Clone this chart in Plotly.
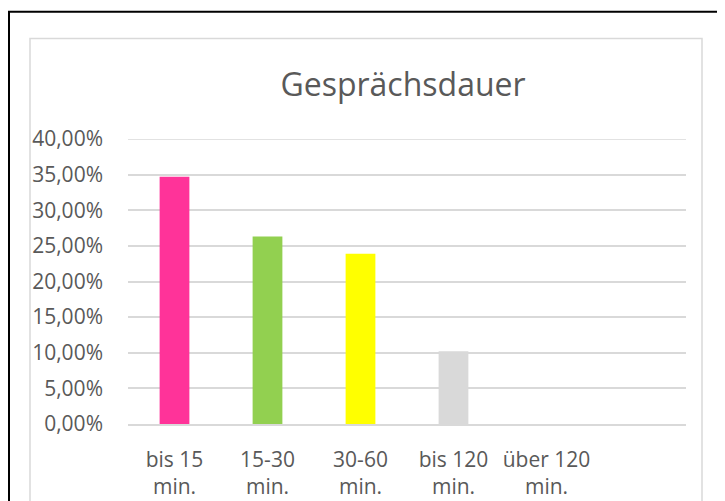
import plotly.graph_objects as go

# Data
categories = ["bis 15<br>min.", "15-30<br>min.", "30-60<br>min.", "bis 120<br>min.", "über 120<br>min.", " "]
values = [0.347, 0.263, 0.239, 0.102, 0.0, None]
bar_colors = ["#FF3399", "#92D050", "#FFFF00", "#D9D9D9", "#A5A5A5", "#FFFFFF"]
y_ticks = [0, 0.05, 0.10, 0.15, 0.20, 0.25, 0.30, 0.35, 0.40]

# page has an 8px body margin, so figure coords = page coords - 8
W, H = 717, 493
L, R = 120, 678
T, B = 131, 416.3
YMAX = 0.4

def px_x(p):
    return (p - L) / (R - L)

def px_y(p):
    return (B - p) / (B - T)

fig = go.Figure(go.Bar(
    x=categories,
    y=values,
    marker=dict(color=bar_colors, line=dict(width=0)),
    width=0.32,
    hoverinfo="skip",
))

font = "Open Sans, sans-serif"
grey_txt = "#595959"
grid = "#D9D9D9"

fig.update_layout(
    width=W, height=H,
    margin=dict(l=L, r=W - R, t=T, b=H - B, pad=0, autoexpand=False),
    paper_bgcolor="white",
    plot_bgcolor="white",
    separators=",.",
    showlegend=False,
    font=dict(family=font, color=grey_txt, size=21),
    title=dict(
        text="Gesprächsdauer",
        x=395 / W, xanchor="center", xref="container",
        y=1 - 77 / H, yanchor="middle", yref="container",
        font=dict(family=font, size=32, color=grey_txt),
    ),
    xaxis=dict(
        type="category",
        categoryorder="array", categoryarray=categories,
        range=[-0.5, 5.5],
        showgrid=False,
        showline=True, linecolor=grid, linewidth=1.5,
        ticks="", ticklabelstandoff=16,
        tickfont=dict(family=font, size=21, color=grey_txt),
        automargin=False,
        fixedrange=True,
    ),
    yaxis=dict(
        range=[0, YMAX],
        tickvals=y_ticks,
        tickformat=".2%",
        showgrid=True, gridcolor=grid, gridwidth=1.5,
        zeroline=False, showline=False,
        ticks="", ticklabelstandoff=24,
        tickfont=dict(family=font, size=21, color=grey_txt),
        automargin=False,
        fixedrange=True,
    ),
    shapes=[
        dict(type="line", xref="paper", yref="y",
             x0=0, x1=1, y0=YMAX, y1=YMAX,
             line=dict(color=grid, width=1.5), layer="below"),
        dict(type="rect", xref="paper", yref="paper",
             x0=px_x(22), x1=px_x(694), y0=px_y(560), y1=px_y(30.5),
             line=dict(color=grid, width=1.5), fillcolor="rgba(0,0,0,0)", layer="below"),
        dict(type="rect", xref="paper", yref="paper",
             x0=px_x(1), x1=px_x(714), y0=px_y(560), y1=px_y(3.5),
             line=dict(color="#000000", width=2), fillcolor="rgba(0,0,0,0)", layer="above"),
    ],
)

fig.write_html("out.html")
